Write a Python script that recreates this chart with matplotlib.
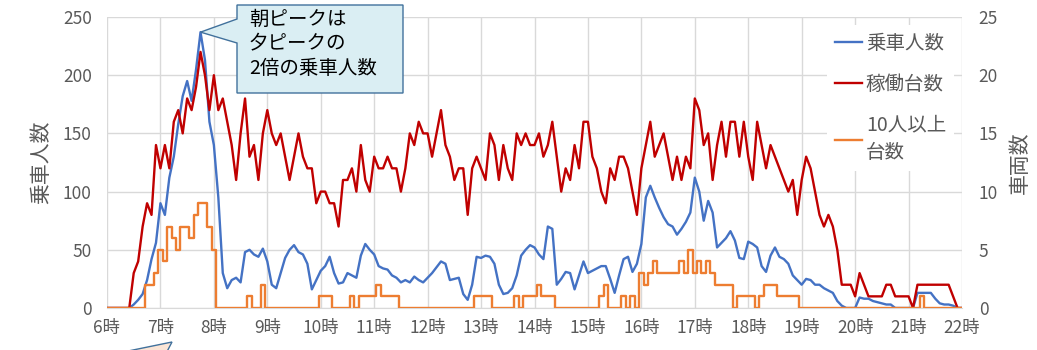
import numpy as np
import matplotlib.pyplot as plt
from matplotlib.patches import Polygon
from matplotlib.lines import Line2D

plt.rcParams['font.family'] = ['Noto Sans CJK JP', 'DejaVu Sans']

# 5-minute samples from 6:00 to 22:00, one row per hour
passengers = [
    0, 0, 0, 0, 0, 0, 3, 7, 12, 24, 42, 56,                  # 6時
    90, 80, 112, 130, 158, 182, 195, 178, 205, 237, 213, 160,  # 7時
    140, 95, 30, 17, 24, 26, 22, 48, 50, 46, 44, 51,          # 8時
    40, 20, 17, 30, 43, 50, 54, 48, 46, 38, 16, 24,           # 9時
    32, 36, 44, 30, 21, 22, 30, 28, 26, 45, 55, 50,           # 10時
    46, 36, 34, 33, 28, 26, 22, 24, 22, 27, 24, 22,           # 11時
    26, 30, 35, 40, 38, 24, 25, 26, 12, 7, 20, 44,            # 12時
    43, 45, 44, 38, 20, 12, 13, 17, 28, 45, 50, 54,           # 13時
    52, 46, 42, 70, 68, 20, 25, 31, 30, 16, 28, 40,           # 14時
    30, 32, 34, 36, 36, 25, 13, 28, 42, 44, 31, 38,           # 15時
    55, 95, 105, 95, 86, 78, 72, 70, 63, 68, 74, 82,          # 16時
    112, 100, 75, 92, 82, 52, 56, 60, 66, 58, 43, 42,         # 17時
    57, 55, 52, 36, 31, 45, 52, 44, 42, 38, 28, 24,           # 18時
    20, 25, 24, 20, 20, 17, 15, 13, 6, 2, 0, 0,               # 19時
    0, 9, 8, 8, 6, 5, 4, 3, 3, 0, 0, 0,                       # 20時
    0, 0, 13, 13, 13, 13, 8, 4, 3, 3, 2, 0,                   # 21時
    0,
]

running = [
    0, 0, 0, 0, 0, 0, 3, 4, 7, 9, 8, 14,
    12, 14, 12, 16, 17, 15, 18, 17, 19, 22, 20, 17,
    20, 17, 18, 16, 14, 11, 15, 18, 13, 14, 11, 15,
    17, 15, 14, 15, 13, 11, 13, 15, 13, 12, 12, 9,
    10, 10, 9, 9, 7, 11, 11, 12, 10, 14, 11, 10,
    13, 12, 12, 13, 12, 12, 10, 12, 15, 14, 16, 15,
    15, 13, 15, 17, 14, 13, 11, 12, 12, 8, 12, 13,
    12, 11, 15, 14, 11, 14, 12, 11, 15, 14, 15, 14,
    14, 15, 13, 14, 16, 13, 10, 12, 11, 14, 12, 16,
    16, 13, 12, 10, 9, 12, 11, 13, 13, 12, 10, 8,
    12, 14, 16, 13, 14, 15, 13, 11, 13, 11, 13, 12,
    18, 17, 14, 15, 11, 14, 16, 13, 16, 16, 13, 16,
    13, 11, 16, 14, 12, 14, 13, 12, 11, 10, 11, 8,
    11, 13, 12, 10, 8, 7, 8, 7, 5, 2, 2, 2,
    1, 3, 2, 1, 1, 1, 1, 2, 2, 1, 1, 1,
    1, 0, 2, 2, 2, 2, 2, 2, 2, 2, 1, 0,
    0,
]

crowded = [
    0, 0, 0, 0, 0, 0, 0, 0, 0, 2, 2, 3,
    5, 4, 7, 6, 5, 7, 7, 6, 8, 9, 9, 7,
    5, 0, 0, 0, 0, 0, 0, 0, 1, 0, 0, 2,
    0, 0, 0, 0, 0, 0, 0, 0, 0, 0, 0, 0,
    1, 1, 1, 0, 0, 0, 0, 1, 0, 1, 1, 1,
    1, 2, 1, 1, 1, 1, 0, 0, 0, 0, 0, 0,
    0, 0, 0, 0, 0, 0, 0, 0, 0, 0, 0, 1,
    1, 1, 1, 0, 0, 0, 0, 0, 1, 0, 1, 1,
    1, 2, 1, 1, 1, 0, 0, 0, 0, 0, 0, 0,
    0, 0, 0, 1, 2, 0, 0, 0, 1, 0, 1, 0,
    3, 2, 3, 4, 3, 3, 3, 3, 3, 4, 3, 5,
    3, 4, 3, 4, 3, 2, 2, 2, 2, 0, 1, 1,
    1, 1, 0, 1, 2, 2, 2, 1, 1, 1, 1, 1,
    0, 0, 0, 0, 0, 0, 0, 0, 0, 0, 0, 0,
    0, 0, 0, 0, 0, 0, 0, 0, 0, 0, 0, 0,
    0, 0, 0, 1, 0, 0, 0, 0, 0, 0, 0, 0,
    0,
]

hours = list(range(6, 23))
hour_labels = [f"{h}時" for h in hours]
series_names = ["乗車人数", "稼働台数", "10人以上\n台数"]
note = "朝ピークは\n夕ピークの\n2倍の乗車人数"

C_BLUE = "#4472C4"
C_RED = "#C00000"
C_ORANGE = "#ED7D31"
C_TEXT = "#595959"
C_GRID = "#D9D9D9"

t = 6 + np.arange(len(passengers)) * 5 / 60

W, H = 1037, 350
fig = plt.figure(figsize=(W / 100, H / 100), dpi=100)
ax = fig.add_axes([107 / W, 1 - 308 / H, (962 - 107) / W, (308 - 17) / H])
ax2 = ax.twinx()

ax.plot(t, passengers, color=C_BLUE, lw=1.7)
ax2.plot(t, running, color=C_RED, lw=1.7)
# the crowded-vehicle count jumps between whole numbers
ax2.plot(t, crowded, color=C_ORANGE, lw=1.7, drawstyle='steps-mid')

ax.set_xlim(6, 22)
ax.set_ylim(0, 250)
ax2.set_ylim(0, 25)
ax.set_xticks(hours)
ax.set_xticklabels(hour_labels)
ax.set_yticks(range(0, 251, 50))
ax2.set_yticks(range(0, 26, 5))
ax.grid(True, color=C_GRID, lw=1)
ax.set_axisbelow(True)

for a in (ax, ax2):
    for s in a.spines.values():
        s.set_visible(False)
    a.tick_params(length=0, labelsize=12.5, colors=C_TEXT)
ax.spines['bottom'].set_visible(True)
ax.spines['bottom'].set_color(C_GRID)
ax.tick_params(axis='y', pad=11)
ax.tick_params(axis='x', pad=8)
ax2.tick_params(axis='y', pad=12)

ax.set_ylabel("乗車人数", fontsize=15, color=C_TEXT, labelpad=8)
ax2.set_ylabel("車両数", fontsize=15, color=C_TEXT, labelpad=8)

handles = [Line2D([], [], color=c, lw=1.7) for c in (C_BLUE, C_RED, C_ORANGE)]
leg = ax2.legend(handles, series_names, loc='upper right', bbox_to_anchor=(0.995, 0.985),
                 frameon=True, fancybox=False, edgecolor='none', framealpha=1,
                 fontsize=14, handlelength=1.4, handletextpad=0.2,
                 labelspacing=1.0, borderaxespad=0.2)
for txt in leg.get_texts():
    txt.set_color(C_TEXT)
leg.get_texts()[2].set_linespacing(1.45)

# callout pointing at the morning peak
fig.canvas.draw()
i_peak = int(np.argmax(passengers))
tip = ax.transData.transform((t[i_peak], passengers[i_peak]))
tip = fig.transFigure.inverted().transform(tip)
box = [(237, 5), (403, 5), (403, 93), (237, 93), (237, 43), None, (237, 19)]
pts = []
for p in box:
    if p is None:
        pts.append(tuple(tip))
    else:
        pts.append((p[0] / W, 1 - p[1] / H))
fig.patches.append(Polygon(pts, closed=True, transform=fig.transFigure,
                           facecolor="#DAEEF3", edgecolor="#41719C", lw=1, zorder=5))
fig.text(249 / W, 1 - 9 / H, note, fontsize=14, va='top', ha='left',
         linespacing=1.22, color='black', zorder=6)

# second callout, mostly below the frame
pts2 = [(172 / W, 1 - 342 / H), (166 / W, -0.01), (116 / W, -0.01)]
fig.patches.append(Polygon(pts2, closed=True, transform=fig.transFigure,
                           facecolor="#FBE5D6", edgecolor="#41719C", lw=1, zorder=5))

fig.savefig("out.png", dpi=100)
